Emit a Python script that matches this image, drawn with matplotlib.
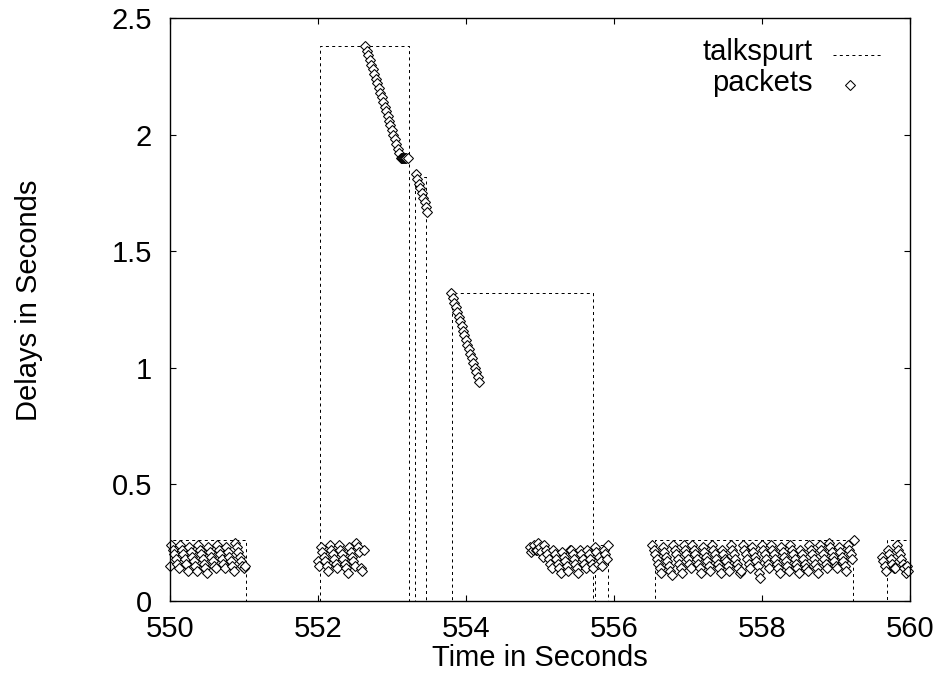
import matplotlib
matplotlib.use("Agg")
import matplotlib.pyplot as plt

plt.rcParams["font.family"] = ["Liberation Sans", "DejaVu Sans"]

# talkspurts: start, end, playout delay
spurt_start = [549.5, 552.03, 553.31, 553.81, 555.74, 556.55, 559.69]
spurt_end = [551.03, 553.23, 553.46, 555.72, 555.92, 559.23, 560.5]
spurt_delay = [0.26, 2.38, 1.82, 1.32, 0.24, 0.26, 0.26]

# packets (send time, delay)
burst1_t = [550.00, 550.02, 550.04, 550.06, 550.08, 550.10, 550.12, 550.14, 550.16, 550.18,
            550.20, 550.22, 550.24, 550.26, 550.28, 550.30, 550.32, 550.34, 550.36, 550.38,
            550.40, 550.42, 550.44, 550.46, 550.48, 550.50, 550.52, 550.54, 550.56, 550.58,
            550.60, 550.62, 550.64, 550.66, 550.68, 550.70, 550.72, 550.74, 550.76, 550.78,
            550.80, 550.82, 550.84, 550.86, 550.88, 550.90, 550.92, 550.94, 550.96, 550.98,
            551.00, 551.02]
burst1_d = [0.15, 0.24, 0.22, 0.20, 0.18, 0.16, 0.14, 0.24, 0.22, 0.20,
            0.18, 0.16, 0.13, 0.23, 0.21, 0.19, 0.17, 0.15, 0.13, 0.24,
            0.22, 0.20, 0.18, 0.16, 0.14, 0.12, 0.23, 0.21, 0.19, 0.17,
            0.15, 0.14, 0.24, 0.22, 0.20, 0.18, 0.16, 0.14, 0.23, 0.21,
            0.19, 0.17, 0.15, 0.13, 0.25, 0.23, 0.21, 0.19, 0.17, 0.15,
            0.14, 0.15]

burst2_t = [552.00, 552.02, 552.04, 552.06, 552.08, 552.10, 552.12, 552.14, 552.16, 552.18,
            552.20, 552.22, 552.24, 552.26, 552.28, 552.30, 552.32, 552.34, 552.36, 552.38,
            552.40, 552.42, 552.44, 552.46, 552.48, 552.50, 552.52, 552.54, 552.56, 552.58,
            552.60, 552.62]
burst2_d = [0.17, 0.15, 0.23, 0.21, 0.19, 0.17, 0.15, 0.13, 0.24, 0.22,
            0.20, 0.18, 0.16, 0.14, 0.24, 0.22, 0.20, 0.18, 0.16, 0.14,
            0.12, 0.23, 0.21, 0.19, 0.17, 0.15, 0.25, 0.23, 0.21, 0.14,
            0.13, 0.22]

chain_t = [552.64, 552.66, 552.68, 552.70, 552.72, 552.74, 552.76, 552.78, 552.80, 552.82,
           552.84, 552.86, 552.88, 552.90, 552.92, 552.94, 552.96, 552.98, 553.00, 553.02,
           553.04, 553.06, 553.08, 553.10, 553.12]
chain_d = [2.38, 2.36, 2.34, 2.32, 2.30, 2.28, 2.26, 2.24, 2.22, 2.20,
           2.18, 2.16, 2.14, 2.12, 2.10, 2.08, 2.06, 2.04, 2.02, 2.00,
           1.98, 1.96, 1.94, 1.92, 1.90]

blob_t = [553.13, 553.14, 553.15, 553.16, 553.17, 553.19, 553.22]
blob_d = [1.90, 1.90, 1.90, 1.90, 1.90, 1.90, 1.90]

burst3_t = [553.32, 553.34, 553.36, 553.38, 553.40, 553.42, 553.44, 553.46, 553.48]
burst3_d = [1.83, 1.81, 1.79, 1.77, 1.75, 1.73, 1.71, 1.69, 1.67]

burst4_t = [553.80, 553.82, 553.84, 553.86, 553.88, 553.90, 553.92, 553.94, 553.96, 553.98,
            554.00, 554.02, 554.04, 554.06, 554.08, 554.10, 554.12, 554.14, 554.16, 554.18]
burst4_d = [1.32, 1.30, 1.28, 1.26, 1.24, 1.22, 1.20, 1.18, 1.16, 1.14,
            1.12, 1.10, 1.08, 1.06, 1.04, 1.02, 1.00, 0.98, 0.96, 0.94]

burst5_t = [554.86, 554.88, 554.90, 554.92, 554.94, 554.96, 554.98, 555.00, 555.02, 555.04,
            555.06, 555.08, 555.10, 555.12, 555.14, 555.16, 555.18, 555.20, 555.22, 555.24,
            555.26, 555.28, 555.30, 555.32, 555.34, 555.36, 555.38, 555.40, 555.42, 555.44,
            555.46, 555.48, 555.50, 555.52, 555.54, 555.56, 555.58, 555.60, 555.62, 555.64,
            555.66, 555.68, 555.70, 555.72, 555.74, 555.76, 555.78, 555.80, 555.82, 555.84,
            555.86, 555.88, 555.90, 555.92]
burst5_d = [0.23, 0.21, 0.22, 0.24, 0.22, 0.22, 0.25, 0.23, 0.21, 0.19,
            0.24, 0.22, 0.20, 0.18, 0.16, 0.14, 0.22, 0.20, 0.18, 0.16,
            0.14, 0.12, 0.21, 0.19, 0.17, 0.15, 0.13, 0.22, 0.22, 0.20,
            0.18, 0.16, 0.14, 0.12, 0.22, 0.20, 0.18, 0.16, 0.14, 0.22,
            0.20, 0.18, 0.16, 0.14, 0.23, 0.21, 0.16, 0.19, 0.17, 0.15,
            0.22, 0.20, 0.18, 0.24]

burst6_t = [556.52, 556.54, 556.56, 556.58, 556.60, 556.62, 556.64, 556.66, 556.68, 556.70,
            556.72, 556.74, 556.76, 556.78, 556.80, 556.82, 556.84, 556.86, 556.88, 556.90,
            556.92, 556.94, 556.96, 556.98, 557.00, 557.02, 557.04, 557.06, 557.08, 557.10,
            557.12, 557.14, 557.16, 557.18, 557.20, 557.22, 557.24, 557.26, 557.28, 557.30,
            557.32, 557.34, 557.36, 557.38, 557.40, 557.42, 557.44, 557.46, 557.48, 557.50,
            557.52, 557.54, 557.56, 557.58, 557.60, 557.62, 557.64, 557.66, 557.68, 557.70,
            557.72, 557.74, 557.76, 557.78, 557.80, 557.82, 557.84, 557.86, 557.88, 557.90,
            557.92, 557.94, 557.96, 557.98, 558.00, 558.02, 558.04, 558.06, 558.08, 558.10,
            558.12, 558.14, 558.16, 558.18, 558.20, 558.22, 558.24, 558.26, 558.28, 558.30,
            558.32, 558.34, 558.36, 558.38, 558.40, 558.42, 558.44, 558.46, 558.48, 558.50,
            558.52, 558.54, 558.56, 558.58, 558.60, 558.62, 558.64, 558.66, 558.68, 558.70,
            558.72, 558.74, 558.76, 558.78, 558.80, 558.82, 558.84, 558.86, 558.88, 558.90,
            558.92, 558.94, 558.96, 558.98, 559.00, 559.02, 559.04, 559.06, 559.08, 559.10,
            559.12, 559.14, 559.16, 559.18, 559.20, 559.22, 559.24]
burst6_d = [0.24, 0.22, 0.20, 0.18, 0.16, 0.14, 0.12, 0.23, 0.21, 0.19,
            0.17, 0.15, 0.13, 0.11, 0.24, 0.22, 0.20, 0.18, 0.16, 0.14,
            0.12, 0.24, 0.22, 0.20, 0.18, 0.16, 0.14, 0.24, 0.22, 0.20,
            0.18, 0.16, 0.14, 0.12, 0.23, 0.21, 0.19, 0.17, 0.15, 0.13,
            0.24, 0.22, 0.20, 0.18, 0.16, 0.14, 0.12, 0.22, 0.20, 0.18,
            0.17, 0.15, 0.13, 0.24, 0.22, 0.20, 0.18, 0.16, 0.14, 0.12,
            0.13, 0.24, 0.22, 0.20, 0.18, 0.16, 0.14, 0.23, 0.21, 0.19,
            0.17, 0.15, 0.12, 0.10, 0.24, 0.22, 0.20, 0.18, 0.16, 0.14,
            0.24, 0.22, 0.20, 0.18, 0.16, 0.14, 0.12, 0.23, 0.21, 0.19,
            0.17, 0.15, 0.13, 0.24, 0.22, 0.20, 0.18, 0.16, 0.14, 0.12,
            0.22, 0.20, 0.18, 0.16, 0.14, 0.13, 0.24, 0.22, 0.20, 0.18,
            0.16, 0.14, 0.12, 0.24, 0.22, 0.20, 0.18, 0.16, 0.14, 0.25,
            0.23, 0.21, 0.19, 0.17, 0.15, 0.14, 0.23, 0.21, 0.19, 0.17,
            0.15, 0.13, 0.24, 0.22, 0.20, 0.18, 0.26]

burst7_t = [559.62, 559.64, 559.66, 559.68, 559.70, 559.72, 559.74, 559.76, 559.78, 559.80,
            559.82, 559.84, 559.86, 559.88, 559.90, 559.92, 559.94, 559.96, 559.98]
burst7_d = [0.19, 0.17, 0.15, 0.13, 0.22, 0.20, 0.18, 0.16, 0.14, 0.14,
            0.24, 0.22, 0.20, 0.18, 0.16, 0.14, 0.12, 0.15, 0.13]

xticks = [550, 552, 554, 556, 558, 560]
yticks = [0, 0.5, 1, 1.5, 2, 2.5]
ytick_labels = ["0", "0.5", "1", "1.5", "2", "2.5"]

packet_t = burst1_t + burst2_t + chain_t + blob_t + burst3_t + burst4_t + burst5_t + burst6_t + burst7_t
packet_d = burst1_d + burst2_d + chain_d + blob_d + burst3_d + burst4_d + burst5_d + burst6_d + burst7_d

# gnuplot-style step outline for the talkspurts
step_x, step_y = [], []
for s, e, d in zip(spurt_start, spurt_end, spurt_delay):
    step_x += [s, s, e, e]
    step_y += [0, d, d, 0]

fig = plt.figure(figsize=(9.38, 6.75), dpi=100)
ax = fig.add_axes([0.1812, 0.1096, 0.7889, 0.8637])

dots = (0, (3, 3.3))
ms = 4.9
ax.plot(step_x, step_y, color="black", lw=0.72, ls=dots)
ax.plot(packet_t, packet_d, ls="none", marker="D", ms=ms, mfc="white",
        mec="black", mew=0.75, clip_on=False)

ax.set_xlim(550, 560)
ax.set_ylim(0, 2.5)
ax.set_xticks(xticks)
ax.set_xticklabels([str(x) for x in xticks])
ax.set_yticks(yticks)
ax.set_yticklabels(ytick_labels)
ax.tick_params(direction="in", length=4.5, width=0.8, top=True, right=True,
               labelsize=21, color="black")
ax.tick_params(axis="x", pad=10)
ax.tick_params(axis="y", pad=13)
for sp in ax.spines.values():
    sp.set_linewidth(1.0)

ax.set_xlabel("Time in Seconds", fontsize=21, va="center")
ax.xaxis.set_label_coords(0.5, -0.098)
ax.set_ylabel("Delays in Seconds", fontsize=21, va="center")
ax.yaxis.set_label_coords(-0.19, 0.515)

# key, top right
ax.text(0.869, 0.942, "talkspurt", transform=ax.transAxes, ha="right", va="center", fontsize=21)
ax.plot([0.896, 0.962], [0.937, 0.937], transform=ax.transAxes, color="black", lw=0.72, ls=dots)
ax.text(0.869, 0.888, "packets", transform=ax.transAxes, ha="right", va="center", fontsize=21)
ax.plot([0.919], [0.885], transform=ax.transAxes, ls="none", marker="D", ms=ms,
        mfc="white", mec="black", mew=0.75)

fig.savefig("out.png", dpi=100)
